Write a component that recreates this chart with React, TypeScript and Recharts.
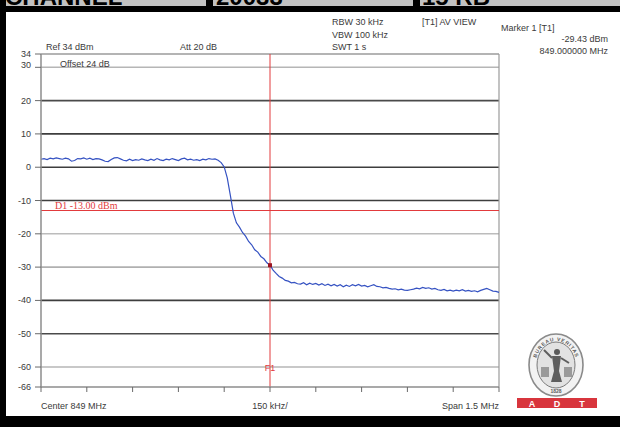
import React from 'react';
import { LineChart, Line, XAxis, YAxis, ReferenceLine, ReferenceDot } from 'recharts';

// Sweep: 849 MHz centre, 1.5 MHz span, 0.01 MHz bins (151 points)
const sweepStartMHz = 848.25;
const sweepStepMHz = 0.01;

// Measured AV trace level per bin, dBm
const traceDbm = [
  2.4, 2.6, 2.3, 2.7, 2.5, 2.8, 2.6, 2.4, 2.7, 2.5,
  1.8, 2.0, 2.6, 2.5, 2.8, 2.4, 2.7, 2.3, 2.6, 2.5,
  2.2, 1.8, 1.7, 2.3, 2.8, 2.9, 2.5, 2.1, 1.9, 2.4,
  2.0, 2.3, 2.1, 2.5, 2.2, 2.0, 2.4, 2.1, 2.6, 2.2,
  2.0, 2.4, 2.2, 2.6, 2.3, 2.0, 2.5, 2.7, 2.2, 2.4,
  2.1, 2.3, 2.0, 2.4, 2.2, 2.6, 2.4, 2.5, 2.1, 1.4,
  0.1, -3.2, -8.4, -13.8, -16.7, -18.0, -19.6, -20.7, -22.3, -23.3,
  -24.8, -25.5, -26.8, -27.5, -28.7, -29.43, -30.9, -31.9, -32.8, -33.3,
  -34.0, -34.2, -34.7, -34.6, -35.0, -35.1, -34.7, -35.3, -34.8, -35.2,
  -34.9, -35.4, -35.0, -35.5, -35.1, -35.6, -35.2, -35.7, -35.3, -35.9,
  -35.4, -35.8, -35.3, -35.6, -35.2, -35.7, -35.5, -35.9, -35.6, -35.3,
  -35.8, -35.9, -36.2, -36.1, -36.4, -36.6, -36.5, -36.8, -36.6, -36.9,
  -37.0, -36.8, -36.6, -36.3, -36.5, -36.1, -36.4, -36.2, -36.6, -36.4,
  -36.8, -37.0, -36.7, -37.1, -36.9, -37.2, -36.9, -37.1, -36.8, -37.2,
  -37.0, -37.3, -37.1, -37.4, -37.0, -36.7, -36.4, -36.8, -37.2, -37.3,
  -37.6,
];

const freqTicksMHz = [848.25, 848.4, 848.55, 848.7, 848.85, 849.0, 849.15, 849.3, 849.45, 849.6, 849.75];
const levelTicksDbm = [34, 30, 20, 10, 0, -10, -20, -30, -40, -50, -60, -66];
const gridLevelsDbm = [30, 20, 10, 0, -10, -20, -30, -40, -50, -60];
const gridShades = ['#b6b6b6', '#4a4a4a', '#3e3e3e', '#3e3e3e', '#3e3e3e', '#bcbcbc', '#b0b0b0', '#3e3e3e', '#4a4a4a', '#b6b6b6'];

const refLevelDbm = 34;
const floorDbm = -66;
const displayLineDbm = -13;
const markerFreqMHz = 849.0;
const markerLevelDbm = -29.43;

const freqLabels: Record<string, [string, 'start' | 'middle' | 'end']> = {
  '848.25': ['Center 849 MHz', 'start'],
  '849': ['150 kHz/', 'middle'],
  '849.75': ['Span 1.5 MHz', 'end'],
};

const data = traceDbm.map((v, i) => ({
  f: Number((sweepStartMHz + i * sweepStepMHz).toFixed(2)),
  v,
}));

const sans = '"Liberation Sans", Arial, sans-serif';
const serif = '"Liberation Serif", "Times New Roman", serif';
const ink = '#3a3a3a';
const red = '#e23a3c';

function LevelTick(props: any) {
  const { x, y, payload } = props;
  const lift = payload.value === 30 ? -2 : 0;
  return (
    <text x={x} y={y + lift} dy={3} textAnchor="end" fontSize={9} fill={ink} fontFamily={sans}>
      {payload.value}
    </text>
  );
}

function FreqTick(props: any) {
  const { x, y, payload } = props;
  const entry = freqLabels[String(payload.value)];
  if (!entry) return <g />;
  return (
    <text x={x} y={y} dy={14.5} textAnchor={entry[1]} fontSize={9} fill={ink} fontFamily={sans}>
      {entry[0]}
    </text>
  );
}

function DisplayLineLabel(props: any) {
  const vb = props.viewBox || { x: 0, y: 0 };
  return (
    <text x={vb.x + 14} y={vb.y - 1.5} fontSize={10} fill={red} fontFamily={serif}>
      {`D1 ${displayLineDbm.toFixed(2)} dBm`}
    </text>
  );
}

function MarkerLineLabel(props: any) {
  const vb = props.viewBox || { x: 0, y: 0, height: 0 };
  return (
    <text x={vb.x} y={vb.y + vb.height - 16} textAnchor="middle" fontSize={9} fill={red} fontFamily={sans}>
      F1
    </text>
  );
}

function MarkerSquare(props: any) {
  const { cx, cy } = props;
  return <rect x={cx - 2} y={cy - 2} width={4} height={4} fill="#9a1422" />;
}

function Seal() {
  const cx = 556;
  const cy = 365;
  return (
    <g>
      <defs>
        <path id="sealArcTop" d={`M ${cx - 21} ${cy + 2} A 21 26 0 0 1 ${cx + 21} ${cy + 2}`} />
      </defs>
      <ellipse cx={cx} cy={cy} rx={27} ry={31} fill="#f2f2f2" stroke="#8a8a8a" strokeWidth={1.6} />
      <ellipse cx={cx} cy={cy} rx={19} ry={23} fill="#e2e2e2" stroke="#7a7a7a" strokeWidth={1} />
      <text fontSize={5} fill="#5a5a5a" fontFamily={sans} letterSpacing={0.8} fontWeight="bold">
        <textPath href="#sealArcTop" startOffset="50%" textAnchor="middle">BUREAU VERITAS</textPath>
      </text>
      <text x={cx} y={cy + 28} fontSize={5} fill="#5a5a5a" textAnchor="middle" fontFamily={sans} fontWeight="bold">1828</text>
      <circle cx={cx + 1} cy={cy - 13} r={3} fill="#5a5a5a" />
      <path d={`M ${cx - 4} ${cy - 9} L ${cx + 5} ${cy - 9} L ${cx + 3} ${cy + 6} L ${cx + 6} ${cy + 17} L ${cx - 5} ${cy + 17} L ${cx - 2} ${cy + 6} Z`} fill="#5e5e5e" />
      <path d={`M ${cx - 4} ${cy - 7} L ${cx - 12} ${cy - 15}`} stroke="#5e5e5e" strokeWidth={2} />
      <path d={`M ${cx + 5} ${cy - 7} L ${cx + 13} ${cy - 2}`} stroke="#5e5e5e" strokeWidth={2} />
      <rect x={cx - 15} y={cy + 2} width={8} height={10} fill="#9a9a9a" />
      <rect x={cx + 8} y={cy + 2} width={8} height={10} fill="#9a9a9a" />
    </g>
  );
}

function Frame() {
  return (
    <svg width={620} height={427} style={{ position: 'absolute', left: 0, top: 0, pointerEvents: 'none' }}>
      <rect x={0} y={0} width={620} height={6} fill="#c2c2c2" />
      <g fontFamily={sans} fontWeight="bold" fontSize={24} fill="#000">
        <text x={5} y={5}>CHANNEL</text>
        <text x={216} y={5}>20033</text>
        <text x={422} y={5}>15 RB</text>
      </g>
      <rect x={206} y={0} width={7} height={6} fill="#000" />
      <rect x={413} y={0} width={7} height={6} fill="#000" />
      <rect x={0} y={6} width={620} height={6} fill="#000" />
      <rect x={0} y={0} width={6} height={427} fill="#000" />
      <rect x={0} y={416} width={620} height={11} fill="#000" />

      <g fontFamily={sans} fontSize={9} fill={ink}>
        <text x={332} y={25}>RBW 30 kHz</text>
        <text x={332} y={37.5}>VBW 100 kHz</text>
        <text x={332} y={50}>SWT 1 s</text>
        <text x={422} y={25}>[T1] AV VIEW</text>
        <text x={501} y={30.5}>Marker 1 [T1]</text>
        <text x={608} y={42} textAnchor="end">{`${markerLevelDbm.toFixed(2)} dBm`}</text>
        <text x={608} y={54} textAnchor="end">{`${markerFreqMHz.toFixed(6)} MHz`}</text>
        <text x={46} y={50}>{`Ref ${refLevelDbm} dBm`}</text>
        <text x={180} y={50}>Att 20 dB</text>
        <text x={60} y={66.5}>Offset 24 dB</text>
      </g>

      <Seal />
      <rect x={517} y={398} width={80} height={10} fill="#d8353d" />
      <g fontFamily={sans} fontWeight="bold" fontSize={9} fill="#fff" textAnchor="middle">
        <text x={532} y={406.5}>A</text>
        <text x={557} y={406.5}>D</text>
        <text x={582} y={406.5}>T</text>
      </g>
    </svg>
  );
}

export default function App() {
  return (
    <div style={{ position: 'absolute', left: 0, top: 0, width: 620, height: 427, background: '#fff' }}>
      <LineChart width={620} height={427} data={data} margin={{ top: 54, right: 121, bottom: 0, left: 0 }}>
        <XAxis
          dataKey="f"
          type="number"
          domain={[sweepStartMHz, 849.75]}
          ticks={freqTicksMHz}
          interval={0}
          height={40}
          tickSize={5}
          axisLine={{ stroke: '#8c8c8c', strokeWidth: 1.5 }}
          tickLine={{ stroke: '#6a6a6a' }}
          tick={<FreqTick />}
        />
        <YAxis
          type="number"
          domain={[floorDbm, refLevelDbm]}
          ticks={levelTicksDbm}
          interval={0}
          width={41}
          tickSize={6}
          tickMargin={4}
          axisLine={{ stroke: '#8c8c8c', strokeWidth: 1.5 }}
          tickLine={{ stroke: '#6a6a6a' }}
          tick={<LevelTick />}
        />
        {gridLevelsDbm.map((lv, i) => (
          <ReferenceLine key={lv} y={lv} stroke={gridShades[i]} strokeWidth={1.6} />
        ))}
        <ReferenceLine y={refLevelDbm} stroke="#6a6a6a" strokeWidth={1.2} />
        <ReferenceLine x={849.75} stroke="#9a9a9a" strokeWidth={1.2} />
        <ReferenceLine y={displayLineDbm} stroke={red} strokeWidth={1.2} label={<DisplayLineLabel />} />
        <ReferenceLine x={markerFreqMHz} stroke={red} strokeWidth={1} label={<MarkerLineLabel />} />
        <Line
          type="linear"
          dataKey="v"
          stroke="#3552c2"
          strokeWidth={1.2}
          dot={false}
          isAnimationActive={false}
        />
        <ReferenceDot x={markerFreqMHz} y={markerLevelDbm} r={2} shape={<MarkerSquare />} />
      </LineChart>
      <Frame />
    </div>
  );
}
